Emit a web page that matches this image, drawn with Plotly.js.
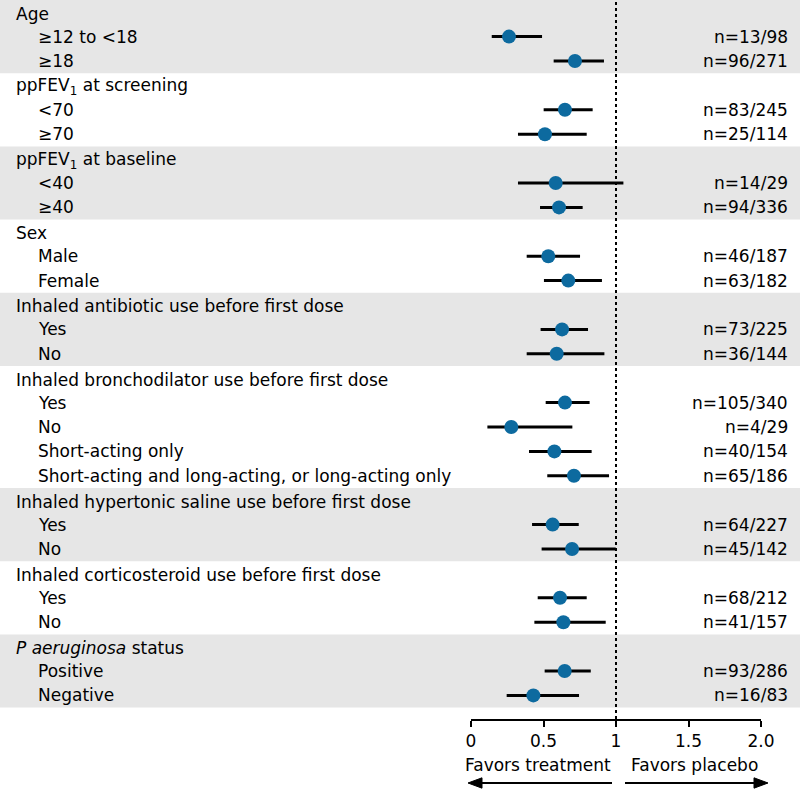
<!DOCTYPE html>
<html>
<head>
<meta charset="utf-8">
<script src="https://cdn.plot.ly/plotly-3.0.1.min.js"></script>
<style>html,body{margin:0;padding:0;background:#fff;}#chart{width:800px;height:790px;}</style>
</head>
<body>
<div id="chart"></div>
<script>
// ---- data ----
const groupNames = [
  "Age",
  "ppFEV<sub>1</sub> at screening",
  "ppFEV<sub>1</sub> at baseline",
  "Sex",
  "Inhaled antibiotic use before first dose",
  "Inhaled bronchodilator use before first dose",
  "Inhaled hypertonic saline use before first dose",
  "Inhaled corticosteroid use before first dose",
  "<i>P aeruginosa</i> status"
];
const groupSizes = [2, 2, 2, 2, 2, 4, 2, 2, 2];
const subLabels = [
  "≥12 to <18", "≥18",
  "<70", "≥70",
  "<40", "≥40",
  "Male", "Female",
  "Yes", "No",
  "Yes", "No", "Short-acting only", "Short-acting and long-acting, or long-acting only",
  "Yes", "No",
  "Yes", "No",
  "Positive", "Negative"
];
const estimates = [0.262, 0.717, 0.648, 0.510, 0.584, 0.607, 0.533, 0.671, 0.628, 0.591,
                   0.648, 0.278, 0.575, 0.710, 0.563, 0.697, 0.614, 0.637, 0.646, 0.430];
const ciLower   = [0.143, 0.570, 0.501, 0.324, 0.324, 0.476, 0.384, 0.503, 0.480, 0.384,
                   0.515, 0.113, 0.400, 0.526, 0.421, 0.487, 0.460, 0.437, 0.508, 0.246];
const ciUpper   = [0.490, 0.917, 0.839, 0.798, 1.051, 0.770, 0.752, 0.903, 0.807, 0.920,
                   0.818, 0.699, 0.832, 0.952, 0.743, 0.998, 0.798, 0.929, 0.826, 0.745];
const nLabels = [
  "n=13/98", "n=96/271",
  "n=83/245", "n=25/114",
  "n=14/29", "n=94/336",
  "n=46/187", "n=63/182",
  "n=73/225", "n=36/144",
  "n=105/340", "n=4/29", "n=40/154", "n=65/186",
  "n=64/227", "n=45/142",
  "n=68/212", "n=41/157",
  "n=93/286", "n=16/83"
];
const tickVals = [0, 0.5, 1, 1.5, 2];
const tickText = ["0", "0.5", "1", "1.5", "2.0"];
const refValue = 1;
const directionLabels = ["Favors treatment", "Favors placebo"];

// ---- layout computation ----
const FONT = "DejaVu Sans, Arial, sans-serif";
const FS = 17;
const headerRows = [];
const itemRows = [];
const bands = [];
let row = 0;
groupSizes.forEach((sz, g) => {
  headerRows.push(row);
  if (g % 2 === 0) bands.push([row - 0.5, row + sz + 0.5]);
  row++;
  for (let k = 0; k < sz; k++) { itemRows.push(row); row++; }
});
const plotBottomPx = 719, rowPx = 24.4;
const yMax = -0.5 + plotBottomPx / rowPx;
const txtFont = {family: FONT, size: FS, color: "#000"};

const annotations = [];
groupNames.forEach((name, g) => {
  annotations.push({xref: "paper", yref: "y", x: 0.0175, y: headerRows[g] + 0.06, text: name,
    xanchor: "left", yanchor: "middle", showarrow: false, font: txtFont});
});
subLabels.forEach((lab, i) => {
  annotations.push({xref: "paper", yref: "y", x: 0.045, y: itemRows[i], text: lab,
    xanchor: "left", yanchor: "middle", showarrow: false, font: txtFont});
  annotations.push({xref: "paper", yref: "y", x: 0.988, y: itemRows[i], text: nLabels[i],
    xanchor: "right", yanchor: "middle", showarrow: false, font: txtFont});
});
annotations.push({xref: "x", yref: "paper", x: 0.46, y: -0.064, text: directionLabels[0],
  xanchor: "center", yanchor: "middle", showarrow: false, font: txtFont});
annotations.push({xref: "x", yref: "paper", x: 1.54, y: -0.064, text: directionLabels[1],
  xanchor: "center", yanchor: "middle", showarrow: false, font: txtFont});

const shapes = bands.map(b => ({type: "rect", xref: "paper", yref: "y", x0: 0, x1: 1, y0: b[0], y1: b[1],
  fillcolor: "#e6e6e6", line: {width: 0}, layer: "below"}));
shapes.push({type: "line", xref: "x", yref: "paper", x0: refValue, x1: refValue, y0: 0, y1: 1,
  line: {color: "#000", width: 2, dash: "dot"}, layer: "above"});

// direction arrows (decoration, in paper coordinates)
const ay = -0.089, ah = 0.0072;
const px = v => v / 800;
shapes.push({type: "line", xref: "paper", yref: "paper", x0: px(478), x1: px(612), y0: ay, y1: ay,
  line: {color: "#000", width: 2}});
shapes.push({type: "path", xref: "paper", yref: "paper",
  path: `M ${px(468)} ${ay} L ${px(482)} ${ay + ah} L ${px(482)} ${ay - ah} Z`,
  fillcolor: "#000", line: {color: "#000", width: 1}});
shapes.push({type: "line", xref: "paper", yref: "paper", x0: px(625), x1: px(758), y0: ay, y1: ay,
  line: {color: "#000", width: 2}});
shapes.push({type: "path", xref: "paper", yref: "paper",
  path: `M ${px(768)} ${ay} L ${px(754)} ${ay + ah} L ${px(754)} ${ay - ah} Z`,
  fillcolor: "#000", line: {color: "#000", width: 1}});

const trace = {
  type: "scatter", mode: "markers",
  x: estimates, y: itemRows,
  marker: {size: 14, color: "#0d6a9f"},
  error_x: {type: "data", symmetric: false,
    array: estimates.map((e, i) => ciUpper[i] - e),
    arrayminus: estimates.map((e, i) => e - ciLower[i]),
    color: "#000", thickness: 3, width: 0},
  hoverinfo: "skip", cliponaxis: false
};

const layout = {
  width: 800, height: 790,
  margin: {l: 0, r: 0, t: 0, b: 71, pad: 0},
  paper_bgcolor: "#fff", plot_bgcolor: "rgba(0,0,0,0)",
  showlegend: false,
  font: txtFont,
  xaxis: {domain: [471 / 800, 761 / 800], range: [0, 2], tickvals: tickVals, ticktext: tickText,
    showline: true, linecolor: "#000", linewidth: 2, ticks: "outside", ticklen: 6, tickwidth: 2,
    tickcolor: "#000", showgrid: false, zeroline: false, fixedrange: true,
    tickfont: txtFont},
  yaxis: {range: [yMax, -0.5], visible: false, showgrid: false, zeroline: false, fixedrange: true},
  shapes: shapes,
  annotations: annotations
};

Plotly.newPlot("chart", [trace], layout, {displayModeBar: false, staticPlot: true});
</script>
</body>
</html>
